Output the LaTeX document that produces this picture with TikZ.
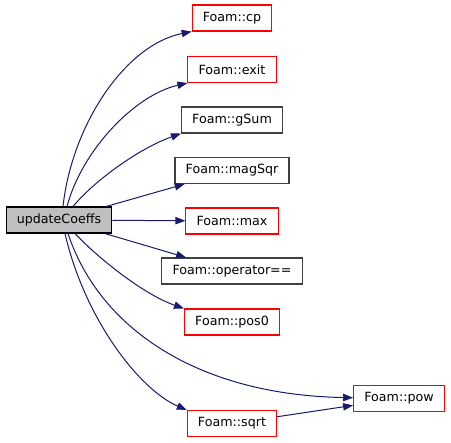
\documentclass[tikz,border=0pt]{standalone}
\usepackage{fontspec}
\setmainfont{DejaVu Sans}
\usetikzlibrary{arrows.meta}
\definecolor{edgeBlue}{RGB}{25,25,112}
\definecolor{callerFill}{RGB}{191,191,191}
\definecolor{boxGray}{RGB}{64,64,64}
\definecolor{boxRed}{RGB}{255,0,0}

\begin{document}
\begin{tikzpicture}[
  x=0.75pt, y=-0.75pt,
  font=\fontsize{9.5}{11.5}\selectfont,
  fn/.style={rectangle, draw=boxGray, fill=white, line width=0.8pt,
    minimum height=19.5pt, inner xsep=8pt, inner ysep=0pt},
  trunc/.style={fn, draw=boxRed},
  caller/.style={fn, draw=black, fill=callerFill},
  call/.style={draw=edgeBlue, line width=0.75pt,
    -{Triangle[length=7.5pt, width=5.5pt]}, fill=none}
]
\useasboundingbox (0,0) rectangle (451,443);

% Caller.
\node[caller] (update) at (59,220) {updateCoeffs};

% Callees, one column.
\node[trunc] (cp) at (232,18) {Foam::cp};
\node[trunc] (exit) at (232,69.5) {Foam::exit};
\node[fn] (gsum) at (232,120) {Foam::gSum};
\node[fn] (magsqr) at (232,170.5) {Foam::magSqr};
\node[trunc] (max) at (232,221) {Foam::max};
\node[fn] (opeq) at (232,271) {Foam::operator==};
\node[trunc] (pos0) at (232,322) {Foam::pos0};
\node[trunc] (sqrt) at (232,423.5) {Foam::sqrt};
\node[trunc] (pow) at (399,398.5) {Foam::pow};

% Calls fanning out upwards.
\draw[call] ([xshift=3pt]update.north)
  .. controls (72,125) and (125,45) .. (cp.south west);
\draw[call] ([xshift=6pt]update.north)
  .. controls (82,150) and (135,95) .. (exit.south west);
\draw[call] ([xshift=10.5pt]update.north)
  .. controls (95,180) and (140,148) .. (gsum.south west);
\draw[call] (update) -- (magsqr);

% Straight across.
\draw[call] (update) -- (max);

% Calls fanning out downwards.
\draw[call] (update) -- (opeq);
\draw[call] ([xshift=12pt]update.south)
  .. controls (100,260) and (145,295) .. (pos0.north west);
\draw[call] ([xshift=6.75pt]update.south)
  .. controls (100,330) and (200,395) .. (pow);
\draw[call] ([xshift=4.5pt]update.south)
  .. controls (85,320) and (140,390) .. (sqrt.north west);

% sqrt calls pow.
\draw[call] (sqrt) -- (pow);

\end{tikzpicture}
\end{document}
